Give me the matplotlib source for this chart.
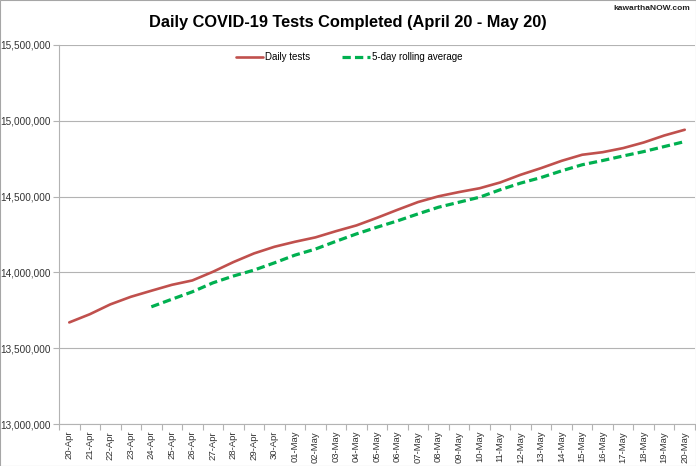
import matplotlib.pyplot as plt
from matplotlib.ticker import FuncFormatter, FixedLocator
from matplotlib.patches import Rectangle

# --- DATA ---
DATES = [
    "20-Apr", "21-Apr", "22-Apr", "23-Apr", "24-Apr", "25-Apr", "26-Apr",
    "27-Apr", "28-Apr", "29-Apr", "30-Apr", "01-May", "02-May", "03-May",
    "04-May", "05-May", "06-May", "07-May", "08-May", "09-May", "10-May",
    "11-May", "12-May", "13-May", "14-May", "15-May", "16-May", "17-May",
    "18-May", "19-May", "20-May",
]

DAILY_TESTS = [
    13670000, 13724000, 13789000, 13839000, 13879000, 13918000, 13947000,
    14004000, 14068000, 14125000, 14169000, 14202000, 14231000, 14272000,
    14310000, 14360000, 14413000, 14464000, 14502000, 14530000, 14555000,
    14593000, 14644000, 14688000, 14736000, 14776000, 14793000, 14820000,
    14857000, 14903000, 14941000,
]

# rolling average starts on the 5th day
ROLLING_AVG = [
    None, None, None, None, 13773000, 13823000, 13872000,
    13931000, 13976000, 14015000, 14063000, 14114000, 14154000, 14205000,
    14254000, 14298000, 14340000, 14386000, 14430000, 14463000, 14496000,
    14545000, 14589000, 14626000, 14670000, 14710000, 14738000, 14768000,
    14797000, 14830000, 14863000,
]

TITLE = "Daily COVID-19 Tests Completed (April 20 - May 20)"
FONT = ['Liberation Sans', 'DejaVu Sans']
GRID = '#b3b3b3'


def main():
    plt.rcParams['font.family'] = FONT
    fig = plt.figure(figsize=(6.96, 4.66), dpi=100)
    ax = fig.add_axes([59 / 696, 42 / 466, 636 / 696, 379 / 466])

    x = list(range(len(DATES)))
    ax.plot(x, DAILY_TESTS, color='#c0504d', linewidth=1.9, label='Daily tests',
            solid_capstyle='round')
    xs = [i for i, v in zip(x, ROLLING_AVG) if v is not None]
    ys = [v for v in ROLLING_AVG if v is not None]
    ax.plot(xs, ys, color='#00b050', linewidth=2.3, linestyle=(0, (2.6, 1.3)),
            label='5-day rolling average')

    ax.set_xlim(-0.5, len(DATES) - 0.5)
    ax.set_ylim(13000000, 15500000)
    ax.set_yticks(range(13000000, 15500001, 500000))
    ax.yaxis.set_major_formatter(FuncFormatter(lambda v, p: f"{int(v):,}"))
    ax.grid(axis='y', color=GRID, linewidth=0.8)
    ax.set_axisbelow(True)

    # category axis: ticks between days, labels centred on days
    ax.xaxis.set_major_locator(FixedLocator([i - 0.5 for i in range(len(DATES) + 1)]))
    ax.xaxis.set_minor_locator(FixedLocator(x))
    ax.set_xticklabels([])
    ax.set_xticklabels(DATES, minor=True, rotation=90, fontsize=6.8)
    ax.tick_params(axis='x', which='major', length=4, color=GRID, width=0.8)
    ax.tick_params(axis='x', which='minor', length=0, pad=5)
    ax.tick_params(axis='y', length=4, color=GRID, width=0.8, labelsize=7.2, pad=2,
                   labelcolor='#333333')
    for lbl in ax.get_xticklabels(minor=True):
        lbl.set_color('#333333')

    for side in ('top', 'right'):
        ax.spines[side].set_visible(False)
    for side in ('left', 'bottom'):
        ax.spines[side].set_color(GRID)
        ax.spines[side].set_linewidth(0.8)

    ax.legend(loc='center', bbox_to_anchor=(0.456, 0.968), ncol=2, frameon=False,
              fontsize=7, handlelength=2.8, columnspacing=3.3, handletextpad=0.2)

    fig.text(0.5, 1 - 22 / 466, TITLE, ha='center', va='center', fontsize=11.8,
             fontweight='bold')
    fig.text(0.992, 1 - 9 / 466, "kawarthaNOW.com", ha='right', va='center',
             fontsize=6, fontweight='bold', color='#222222')

    # thin border around the whole chart
    fig.patches.append(Rectangle((0.0007, 0.001), 0.9986, 0.998, transform=fig.transFigure,
                                 fill=False, edgecolor='#a6a6a6', linewidth=0.8))

    fig.savefig('out.png', dpi=100)
    plt.close(fig)


if __name__ == '__main__':
    main()
